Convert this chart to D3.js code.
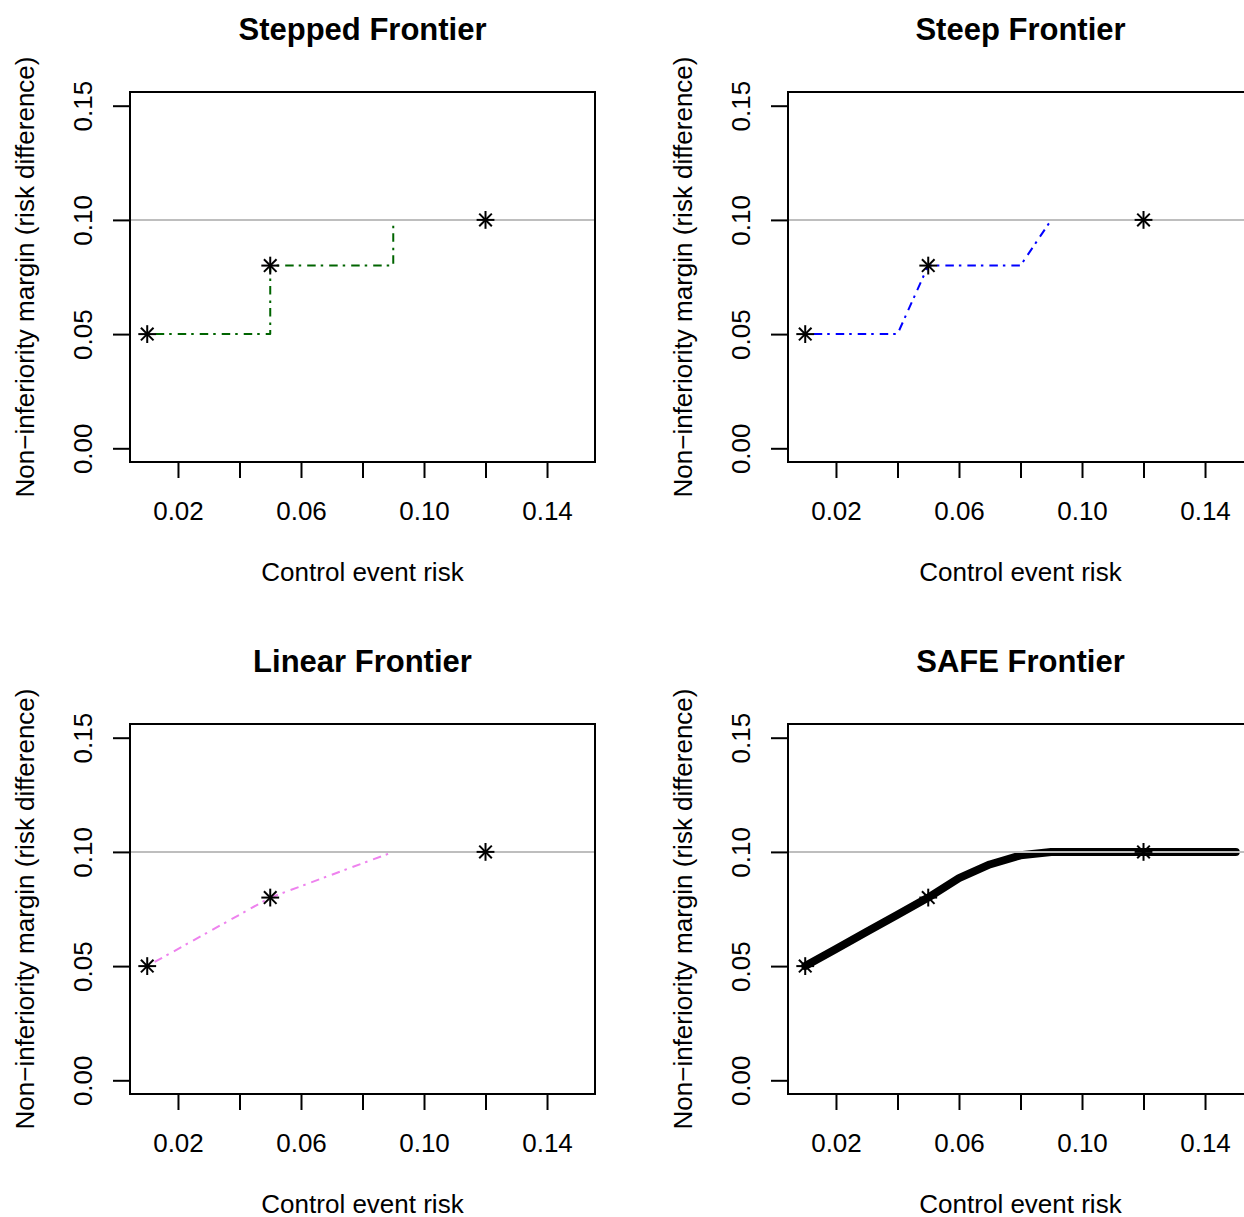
<!DOCTYPE html>
<html>
<head>
<meta charset="utf-8">
<script src="https://cdn.jsdelivr.net/npm/d3@7"></script>
<style>
  body { margin: 0; background: #fff; }
  text { font-family: "Liberation Sans", Arial, Helvetica, sans-serif; fill: #000; }
</style>
</head>
<body>
<svg id="chart" width="1244" height="1217"></svg>
<script>
// observed points shared by all panels
const obsX = [0.01, 0.05, 0.12];
const obsY = [0.05, 0.08, 0.10];

// frontier curves
const steppedX = [0.01, 0.05, 0.09, 0.15];
const steppedY = [0.05, 0.08, 0.10, 0.10];
const steepX = [0.01, 0.04, 0.05, 0.08, 0.09, 0.15];
const steepY = [0.05, 0.05, 0.08, 0.08, 0.10, 0.10];
const linearX = [0.01, 0.05, 0.09, 0.15];
const linearY = [0.05, 0.08, 0.10, 0.10];
const safeX = [0.01, 0.02, 0.03, 0.04, 0.05, 0.06, 0.07, 0.08, 0.09, 0.10, 0.11, 0.12, 0.13, 0.14, 0.15];
const safeY = [0.05, 0.0575, 0.065, 0.0725, 0.08, 0.0885, 0.0945, 0.0985, 0.10, 0.10, 0.10, 0.10, 0.10, 0.10, 0.10];

const xTicks = [0.02, 0.04, 0.06, 0.08, 0.10, 0.12, 0.14];
const xTickLabels = ["0.02", "", "0.06", "", "0.10", "", "0.14"];
const yTicks = [0, 0.05, 0.10, 0.15];
const yTickLabels = ["0.00", "0.05", "0.10", "0.15"];
const refLine = 0.10;

const panels = [
    { title: "Stepped Frontier", xs: steppedX, ys: steppedY, color: "#006400", width: 2, dash: "2.5,6,8.5,5", curve: d3.curveStepAfter, col: 0, row: 0 },
    { title: "Steep Frontier", xs: steepX, ys: steepY, color: "#0000ff", width: 2, dash: "2.5,6,8.5,5", curve: d3.curveLinear, col: 1, row: 0 },
    { title: "Linear Frontier", xs: linearX, ys: linearY, color: "#ee82ee", width: 2, dash: "2.5,6,8.5,5", curve: d3.curveLinear, col: 0, row: 1 },
    { title: "SAFE Frontier", xs: safeX, ys: safeY, color: "#000000", width: 8, dash: null, curve: d3.curveLinear, col: 1, row: 1 }
];

const svg = d3.select("#chart");
const boxW = 465, boxH = 370;
const colOff = [130, 788], rowOff = [92, 724];
const fontFam = "Liberation Sans, Arial, sans-serif";

panels.forEach(p => {
    const left = colOff[p.col], top = rowOff[p.row];
    const g = svg.append("g").attr("transform", `translate(${left},${top})`);

    const x = d3.scaleLinear().domain([0.0044, 0.1556]).range([0, boxW]);
    const y = d3.scaleLinear().domain([-0.006, 0.156]).range([boxH, 0]);

    const clipId = "clip" + p.col + p.row;
    g.append("clipPath").attr("id", clipId)
        .append("rect").attr("width", boxW).attr("height", boxH);

    const plot = g.append("g").attr("clip-path", `url(#${clipId})`);

    const line = d3.line().x(d => x(d[0])).y(d => y(d[1])).curve(p.curve);
    plot.append("path")
        .attr("d", line(d3.zip(p.xs, p.ys)))
        .attr("fill", "none")
        .attr("stroke", p.color)
        .attr("stroke-width", p.width)
        .attr("stroke-dasharray", p.dash)
        .attr("stroke-linecap", p.dash ? "butt" : "round")
        .attr("stroke-linejoin", "round");

    // reference line
    plot.append("line")
        .attr("x1", 0).attr("x2", boxW)
        .attr("y1", y(refLine)).attr("y2", y(refLine))
        .attr("stroke", "#bebebe").attr("stroke-width", 2);

    // asterisk points (pch 8)
    const xc = 6.3, xp = xc * Math.SQRT2;
    d3.zip(obsX, obsY).forEach(d => {
        const cx = x(d[0]), cy = y(d[1]);
        const s = plot.append("g").attr("stroke", "#000").attr("stroke-width", 2);
        s.append("line").attr("x1", cx - xc).attr("y1", cy - xc).attr("x2", cx + xc).attr("y2", cy + xc);
        s.append("line").attr("x1", cx - xc).attr("y1", cy + xc).attr("x2", cx + xc).attr("y2", cy - xc);
        s.append("line").attr("x1", cx - xp).attr("y1", cy).attr("x2", cx + xp).attr("y2", cy);
        s.append("line").attr("x1", cx).attr("y1", cy - xp).attr("x2", cx).attr("y2", cy + xp);
    });

    // box
    g.append("rect").attr("width", boxW).attr("height", boxH)
        .attr("fill", "none").attr("stroke", "#000").attr("stroke-width", 2);

    // x axis
    const xAxis = g.append("g").attr("transform", `translate(0,${boxH})`)
        .call(d3.axisBottom(x).tickValues(xTicks).tickSize(16)
            .tickFormat((d, i) => xTickLabels[i]));
    xAxis.select(".domain").remove();
    xAxis.selectAll(".tick line").attr("stroke-width", 2);
    xAxis.selectAll("text").attr("font-size", 26).attr("dy", null)
        .attr("y", 58).attr("font-family", fontFam).attr("fill", "#000");

    // y axis
    const yAxis = g.append("g")
        .call(d3.axisLeft(y).tickValues(yTicks).tickSize(17)
            .tickFormat((d, i) => yTickLabels[i]));
    yAxis.select(".domain").remove();
    yAxis.selectAll(".tick line").attr("stroke-width", 2);
    yAxis.selectAll("text")
        .attr("font-size", 26).attr("font-family", fontFam).attr("fill", "#000")
        .attr("x", null).attr("dy", null)
        .attr("text-anchor", "middle")
        .attr("transform", "translate(-38,0) rotate(-90)");

    // titles and labels
    g.append("text").attr("x", boxW / 2).attr("y", -52)
        .attr("text-anchor", "middle").attr("font-size", 31).attr("font-weight", "bold")
        .text(p.title);
    g.append("text").attr("x", boxW / 2).attr("y", boxH + 119)
        .attr("text-anchor", "middle").attr("font-size", 26)
        .text("Control event risk");
    g.append("text")
        .attr("transform", `translate(-96,${boxH / 2}) rotate(-90)`)
        .attr("text-anchor", "middle").attr("font-size", 26)
        .text("Non\u2212inferiority margin (risk difference)");
});
</script>
</body>
</html>
